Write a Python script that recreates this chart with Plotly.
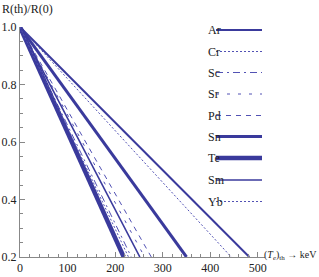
import plotly.graph_objects as go

# ---- data ----
elements = ["Ar", "Cr", "Sc", "Sr", "Pd", "Sn", "Te", "Sm", "Yb"]
# temperature (keV) at which R(th)/R(0) reaches 0.2; all curves start at R=1 for T=0
t_at_02 = [482, 444, 234, 262, 276, 350, 218, 252, 228]
r_start = 1.0
r_end = 0.2

x_ticks = [0, 100, 200, 300, 400, 500]
y_ticks = [0.2, 0.4, 0.6, 0.8, 1.0]

# ---- styles ----
SOLID = "#3a3a9c"
DASHC = "#5252b4"
styles = {
    "Ar": dict(color=SOLID, width=2.0, dash="solid"),
    "Cr": dict(color=DASHC, width=1.0, dash="2px,2px"),
    "Sc": dict(color=DASHC, width=1.0, dash="7px,4px,2px,4px"),
    "Sr": dict(color=DASHC, width=1.0, dash="3px,8px"),
    "Pd": dict(color=DASHC, width=1.0, dash="5px,5px"),
    "Sn": dict(color=SOLID, width=3.0, dash="solid"),
    "Te": dict(color=SOLID, width=4.5, dash="solid"),
    "Sm": dict(color=SOLID, width=1.6, dash="solid"),
    "Yb": dict(color=DASHC, width=1.0, dash="2px,2px"),
}

W, H = 319, 277
ML, MR, MT, MB = 20, 54, 27, 20
PW, PH = W - ML - MR, H - MT - MB

fig = go.Figure()
for el, t in zip(elements, t_at_02):
    fig.add_trace(go.Scatter(x=[0, t], y=[r_start, r_end], mode="lines",
                             line=styles[el], name=el, showlegend=False,
                             cliponaxis=True))

FONT = "Liberation Serif"

# custom legend: label on the left, line sample on the right
leg_y_px = [30, 51.5, 72.5, 94, 115.5, 136.5, 158, 180, 201.5]
def px2paper_x(px):
    return (px - ML) / PW
def px2paper_y(py):
    return (H - MB - py) / PH

for el, py in zip(elements, leg_y_px):
    st = styles[el]
    fig.add_shape(type="line", xref="paper", yref="paper",
                  x0=px2paper_x(216), x1=px2paper_x(262),
                  y0=px2paper_y(py), y1=px2paper_y(py),
                  line=dict(color=st["color"], width=st["width"], dash=st["dash"]))
    fig.add_annotation(xref="paper", yref="paper", x=px2paper_x(206),
                       y=px2paper_y(py), text=el, showarrow=False,
                       xanchor="left", yanchor="middle",
                       font=dict(family=FONT, size=12, color="#222"))

# axis titles
fig.add_annotation(xref="paper", yref="paper", x=px2paper_x(318), y=px2paper_y(257),
                   text="(<i>T<sub>e</sub></i>)<sub>th</sub> → keV",
                   showarrow=False, xanchor="right", yanchor="middle", yshift=2,
                   borderpad=0,
                   font=dict(family=FONT, size=10, color="#222"))
fig.add_annotation(xref="paper", yref="paper", x=px2paper_x(0), y=px2paper_y(9),
                   text="R(th)/R(0)", showarrow=False,
                   xanchor="left", yanchor="middle",
                   font=dict(family=FONT, size=12, color="#222"))

axis_common = dict(showgrid=False, zeroline=False, showline=True,
                   linecolor="#888", linewidth=1, ticks="inside",
                   tickcolor="#888", ticklen=5, tickwidth=1,
                   tickfont=dict(family=FONT, size=12, color="#222"),
                   automargin=False)

fig.update_xaxes(range=[0, 515], tickvals=x_ticks,
                 ticktext=[str(v) for v in x_ticks],
                 minor=dict(dtick=20, ticks="inside", ticklen=3, tickcolor="#888"),
                 **axis_common)
fig.update_yaxes(range=[0.2, 1.0], tickvals=y_ticks,
                 ticktext=[f"{v:.1f}" for v in y_ticks],
                 minor=dict(dtick=0.05, ticks="inside", ticklen=3, tickcolor="#888"),
                 **axis_common)

fig.update_layout(width=W, height=H, margin=dict(l=ML, r=MR, t=MT, b=MB),
                  paper_bgcolor="white", plot_bgcolor="white",
                  showlegend=False)

fig.write_html("out.html",
               config={"staticPlot": True, "displayModeBar": False},
               post_script="document.body.style.margin='0';document.body.style.padding='0';")
